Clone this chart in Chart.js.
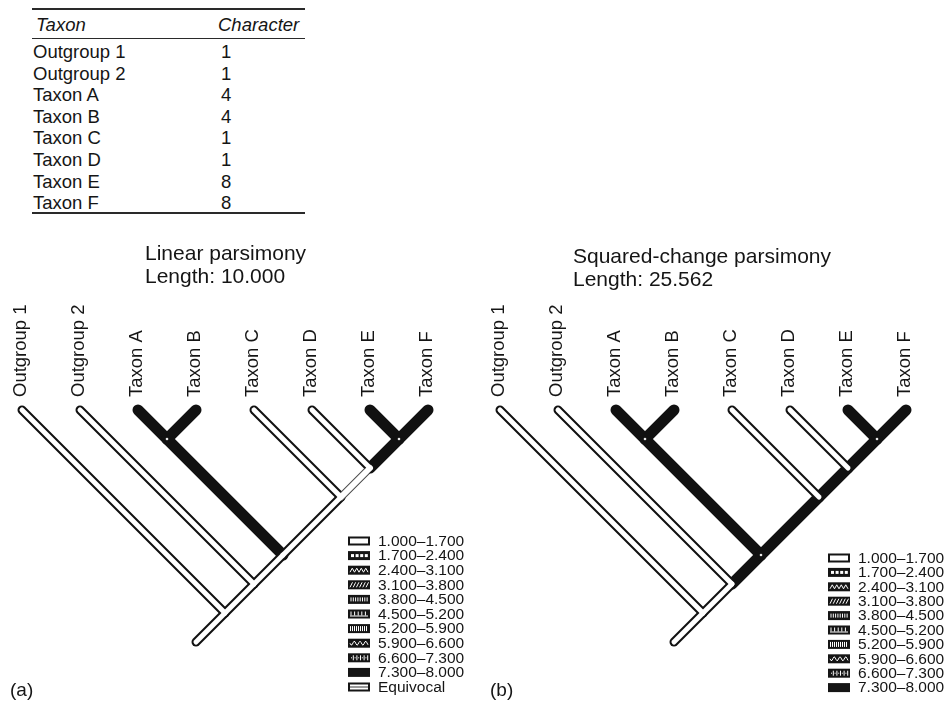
<!DOCTYPE html>
<html>
<head>
<meta charset="utf-8">
<script src="https://cdn.jsdelivr.net/npm/chart.js@4.4.0/dist/chart.umd.min.js"></script>
<style>
  html, body { margin: 0; padding: 0; background: #fff; }
  #fig { position: relative; width: 947px; height: 702px; overflow: hidden;
         font-family: "Liberation Sans", Arial, Helvetica, sans-serif; color: #151515; }
  .abs { position: absolute; white-space: nowrap; }
  .rule { position: absolute; background: #2a2a2a; }
  canvas { position: absolute; }
</style>
</head>
<body>
<div id="fig">
  <canvas id="treeA" width="470" height="482" style="left:0px;top:220px"></canvas>
  <canvas id="treeB" width="477" height="482" style="left:470px;top:220px"></canvas>
</div>
<script>
// ---- data ---------------------------------------------------------------
const taxa = ['Outgroup 1', 'Outgroup 2', 'Taxon A', 'Taxon B', 'Taxon C', 'Taxon D', 'Taxon E', 'Taxon F'];
const character = [1, 1, 4, 4, 1, 1, 8, 8];

// internal nodes of the cladogram and their two descendants (tip index or node name)
const cladeNames    = ['root', 'og2', 'ingroup', 'cladeAB', 'cladeCF', 'cladeDF', 'cladeEF'];
const cladeChildren = [[0, 'og2'], [1, 'ingroup'], ['cladeAB', 'cladeCF'], [2, 3], [4, 'cladeDF'], [5, 'cladeEF'], [6, 7]];

// reconstructed ancestral states at those nodes (null = equivocal)
const linearStates  = [1, 1, 1, 4, 1, null, 8];
const squaredStates = [1.283, 1.566, 2.414, 3.471, 2.205, 3.202, 6.401];

const panelTitles  = ['Linear parsimony', 'Squared-change parsimony'];
const panelLengths = ['Length: 10.000', 'Length: 25.562'];
const panelTags    = ['(a)', '(b)'];

const legendRanges = ['1.000–1.700', '1.700–2.400', '2.400–3.100', '3.100–3.800', '3.800–4.500',
                      '4.500–5.200', '5.200–5.900', '5.900–6.600', '6.600–7.300', '7.300–8.000'];
const equivocalLabel = 'Equivocal';

// ---- page text ----------------------------------------------------------
const FONT = '"Liberation Sans", Arial, Helvetica, sans-serif';
const fig = document.getElementById('fig');

function addText(txt, left, cy, size, italic) {
  const d = document.createElement('div');
  d.className = 'abs';
  d.textContent = txt;
  d.style.left = left + 'px';
  d.style.top = (cy - size * 0.59) + 'px';
  d.style.fontSize = size + 'px';
  d.style.lineHeight = (size * 1.2) + 'px';
  if (italic) d.style.fontStyle = 'italic';
  fig.appendChild(d);
}
function addRule(left, top, width, height) {
  const d = document.createElement('div');
  d.className = 'rule';
  Object.assign(d.style, { left: left + 'px', top: top + 'px', width: width + 'px', height: height + 'px' });
  fig.appendChild(d);
}

// character table
addRule(32, 8, 273, 1.5);
addText('Taxon', 36, 25, 18.5, true);
addText('Character', 218, 25, 18.5, true);
addRule(32, 37.5, 273, 1.5);
taxa.forEach((t, i) => {
  addText(t, 33, 52 + 21.6 * i, 18.5);
  addText(String(character[i]), 221, 52 + 21.6 * i, 18.5);
});
addRule(32, 212, 273, 2);

// panel headings and tags
addText(panelTitles[0], 145, 252, 21);
addText(panelLengths[0], 145, 275, 21);
addText(panelTitles[1], 573, 255, 21);
addText(panelLengths[1], 573, 278, 21);
addText(panelTags[0], 10, 690, 19);
addText(panelTags[1], 490, 690, 19);

// ---- tree geometry --------------------------------------------------------
const rootStub = 0.5;

function layoutTree() {
  const pos = {};
  taxa.forEach((t, i) => { pos[i] = { x: i, y: 0, L: i, R: i }; });
  function walk(n) {
    if (typeof n === 'number') return pos[n];
    const kids = cladeChildren[cladeNames.indexOf(n)].map(walk);
    const L = Math.min(...kids.map(k => k.L)), R = Math.max(...kids.map(k => k.R));
    pos[n] = { x: (L + R) / 2, y: (R - L) / 2, L, R };
    return pos[n];
  }
  walk('root');
  return pos;
}

// legend swatches: black frame with a small fill pattern per state class
function drawSwatch(ctx, x, y, w, h, kind) {
  ctx.save();
  ctx.fillStyle = '#151515';
  ctx.fillRect(x, y, w, h);
  ctx.fillStyle = '#fff';
  ctx.strokeStyle = '#fff';
  ctx.lineWidth = 1;
  const ix = x + 2, iy = y + 2, iw = w - 4, ih = h - 4;
  let k;
  switch (kind) {
    case 0: ctx.fillRect(ix, iy, iw, ih); break;
    case 1: for (k = 0; k < 4; k++) ctx.fillRect(ix + 1 + k * 4.6, iy + 1, 3, ih - 2); break;
    case 2:
      ctx.beginPath();
      for (k = 0; k <= 8; k++) { const px = ix + k * iw / 8, py = iy + (k % 2 ? 0.5 : ih - 0.5); k ? ctx.lineTo(px, py) : ctx.moveTo(px, py); }
      ctx.stroke(); break;
    case 3:
      for (k = 0; k < 6; k++) { ctx.beginPath(); ctx.moveTo(ix + k * 3.2, iy + ih); ctx.lineTo(ix + k * 3.2 + 2.5, iy); ctx.stroke(); }
      break;
    case 4: for (k = 0; k < 8; k++) ctx.fillRect(ix + 0.5 + k * 2.3, iy + 0.5, 1, ih - 1); break;
    case 5:
      ctx.fillRect(ix, iy + ih - 1, iw, 1);
      for (k = 0; k < 5; k++) ctx.fillRect(ix + 0.5 + k * 3.6, iy, 1, ih - 1);
      break;
    case 6: for (k = 0; k < 9; k++) ctx.fillRect(ix + k * 2, iy, 1, ih); break;
    case 7:
      ctx.beginPath();
      for (k = 0; k <= iw; k++) { const py = iy + ih / 2 + Math.sin(k * 1.1) * (ih / 2 - 0.5); k ? ctx.lineTo(ix + k, py) : ctx.moveTo(ix + k, py); }
      ctx.stroke(); break;
    case 8:
      for (k = 0; k < 5; k++) { ctx.fillRect(ix + 1 + k * 3.6, iy + ih / 2 - 0.5, 1, 1); ctx.fillRect(ix + 2.8 + k * 3.6, iy, 1, ih); }
      break;
    case 9: break;
    case 10:
      ctx.fillRect(ix, iy, iw, ih);
      ctx.fillStyle = '#9a9a9a';
      ctx.fillRect(ix, iy + ih / 2 - 1, iw, 2);
      break;
  }
  ctx.restore();
}

const tipLabelPlugin = {
  id: 'tipLabels',
  afterDraw(chart, args, o) {
    const { ctx, scales: { x, y } } = chart;
    ctx.save();
    ctx.font = o.font;
    ctx.fillStyle = o.color;
    ctx.textAlign = 'left';
    ctx.textBaseline = 'middle';
    taxa.forEach((t, i) => {
      ctx.save();
      ctx.translate(x.getPixelForValue(i) + o.dx, y.getPixelForValue(0) - o.gap);
      ctx.rotate(-Math.PI / 2);
      ctx.fillText(t, 0, 0);
      ctx.restore();
    });
    ctx.restore();
  }
};

const stateLegendPlugin = {
  id: 'stateLegend',
  afterDraw(chart, args, o) {
    const ctx = chart.ctx;
    ctx.save();
    ctx.font = o.font;
    ctx.textAlign = 'left';
    ctx.textBaseline = 'middle';
    o.items.forEach((it, k) => {
      const cy = o.top + k * o.spacing;
      drawSwatch(ctx, o.left, cy - o.boxH / 2, o.boxW, o.boxH, it.kind);
      ctx.fillStyle = '#151515';
      ctx.fillText(it.label, o.left + o.boxW + o.gap, cy + 0.5);
    });
    ctx.restore();
  }
};

function buildTree(canvasId, states, padding, legend) {
  const pos = layoutTree();
  const parent = {};
  cladeNames.forEach((n, k) => cladeChildren[k].forEach(c => { parent[c] = n; }));
  const stateOf = n => (typeof n === 'number' ? character[n] : states[cladeNames.indexOf(n)]);
  const kindOf = v => (v === null ? 'equivocal' : (v <= 1.7 ? 'open' : 'filled'));

  const nodes = [...taxa.map((t, i) => i), ...cladeNames.filter(n => n !== 'root')];
  const branches = nodes.map(n => ({ a: pos[parent[n]], b: pos[n], kind: kindOf(stateOf(n)) }));
  const r = pos.root;
  const rootTip = { x: r.x - rootStub, y: r.y + rootStub };
  branches.push({ a: r, b: rootTip, kind: kindOf(stateOf('root')) });

  const seg = (br, color, width) => ({
    data: [{ x: br.a.x, y: br.a.y }, { x: br.b.x, y: br.b.y }],
    showLine: true, borderColor: color, borderWidth: width,
    borderCapStyle: 'round', borderJoinStyle: 'round',
    pointRadius: 0, pointHoverRadius: 0, clip: false, tension: 0, fill: false
  });

  const seq = [];
  // outlines of open / equivocal branches, then solid branches, then open interiors
  branches.filter(b => b.kind !== 'filled').forEach(b => seq.push(seg(b, b.kind === 'open' ? '#111' : '#4a4a4a', b.kind === 'open' ? 9 : 8)));
  branches.filter(b => b.kind === 'filled').forEach(b => seq.push(seg(b, '#111', 11)));
  branches.filter(b => b.kind !== 'filled').forEach(b => seq.push(seg(b, '#fff', b.kind === 'open' ? 5 : 6)));

  // small light specks where three solid branches meet
  const specks = cladeNames.filter(n => n !== 'root' &&
    kindOf(stateOf(n)) === 'filled' &&
    cladeChildren[cladeNames.indexOf(n)].every(c => kindOf(stateOf(c)) === 'filled'));
  seq.push({
    data: specks.map(n => ({ x: pos[n].x, y: pos[n].y })),
    showLine: false, pointRadius: 1.3, pointBorderWidth: 0,
    pointBackgroundColor: '#e8e8e8', pointHoverRadius: 0, clip: false
  });
  seq.forEach((d, k) => { d.order = seq.length - k; });

  return new Chart(document.getElementById(canvasId), {
    type: 'scatter',
    data: { datasets: seq },
    options: {
      responsive: false,
      devicePixelRatio: 1,
      animation: false,
      events: [],
      layout: { padding },
      scales: {
        x: { type: 'linear', min: 0, max: taxa.length - 1, display: false },
        y: { type: 'linear', min: 0, max: rootTip.y, reverse: true, display: false }
      },
      plugins: {
        legend: { display: false },
        tooltip: { enabled: false },
        tipLabels: { font: '18.5px ' + FONT, color: '#151515', gap: 13, dx: -1 },
        stateLegend: legend
      }
    },
    plugins: [tipLabelPlugin, stateLegendPlugin]
  });
}

const rangeItems = legendRanges.map((label, k) => ({ label, kind: k }));

buildTree('treeA', linearStates,
  { left: 22, right: 42, top: 190, bottom: 60 },
  { items: [...rangeItems, { label: equivocalLabel, kind: 10 }],
    left: 348, top: 321, spacing: 14.6, boxW: 22, boxH: 9, gap: 8, font: '15.5px ' + FONT });

buildTree('treeB', squaredStates,
  { left: 30, right: 41, top: 190, bottom: 60 },
  { items: rangeItems,
    left: 358, top: 338, spacing: 14.4, boxW: 22, boxH: 9, gap: 8, font: '15.5px ' + FONT });
</script>
</body>
</html>
